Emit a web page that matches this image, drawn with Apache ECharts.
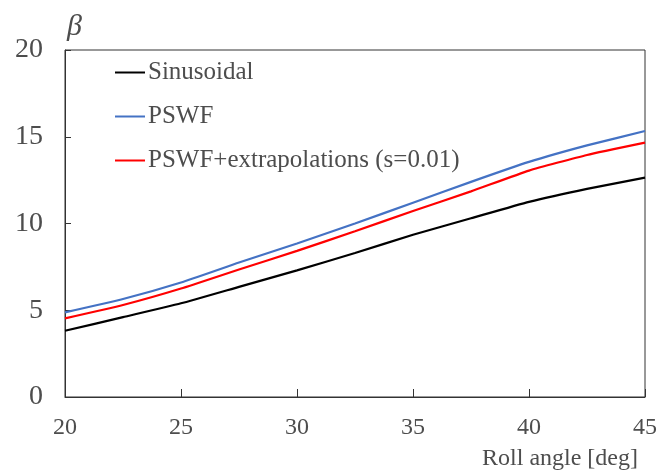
<!DOCTYPE html>
<html>
<head>
<meta charset="utf-8">
<script src="https://cdn.jsdelivr.net/npm/echarts@6/dist/echarts.min.js"></script>
<style>html,body{margin:0;padding:0;background:#fff}#c{width:660px;height:470px}</style>
</head>
<body>
<div id="c"></div>
<script>
const rollAngle = [20, 22.5, 25, 27.5, 30, 32.5, 35, 37.5, 40, 42.5, 45];
const sinusoidal = [3.82, 4.6, 5.4, 6.35, 7.3, 8.3, 9.35, 10.3, 11.25, 12.0, 12.64];
const pswf = [4.88, 5.65, 6.6, 7.75, 8.85, 10.0, 11.2, 12.4, 13.55, 14.5, 15.33];
const pswfExtra = [4.53, 5.3, 6.25, 7.35, 8.42, 9.55, 10.72, 11.85, 13.05, 13.95, 14.66];
const seriesNames = ['Sinusoidal', 'PSWF', 'PSWF+extrapolations (s=0.01)'];
const seriesColors = ['#000000', '#4472C4', '#FF0000'];
const yTicks = [0, 5, 10, 15, 20];
const xTicks = [20, 25, 30, 35, 40, 45];

const serif = '"Liberation Serif", "Times New Roman", serif';
const txtColor = '#4d4d4d';
const toPairs = (ys) => rollAngle.map((x, i) => [x, ys[i]]);
const allY = [sinusoidal, pswf, pswfExtra];

const chart = echarts.init(document.getElementById('c'), null, {renderer: 'canvas'});
chart.setOption({
  animation: false,
  backgroundColor: '#fff',
  grid: {left: 65, right: 15, top: 50, bottom: 73, show: true, borderColor: '#333', borderWidth: 1, backgroundColor: 'transparent'},
  legend: {
    orient: 'vertical', left: 110, top: 55, itemGap: 19,
    icon: 'rect', itemWidth: 30, itemHeight: 2,
    textStyle: {fontFamily: serif, fontSize: 25, color: txtColor, padding: [0, 0, 0, -2]},
    data: seriesNames
  },
  xAxis: {
    type: 'value', min: xTicks[0], max: xTicks[xTicks.length - 1], interval: 5,
    axisLine: {lineStyle: {color: '#333', width: 1}},
    axisTick: {inside: true, length: 8, lineStyle: {color: '#333'}},
    axisLabel: {fontFamily: serif, fontSize: 24, color: txtColor, margin: 19},
    splitLine: {show: false}
  },
  yAxis: {
    type: 'value', min: yTicks[0], max: yTicks[yTicks.length - 1], interval: 5,
    axisLine: {show: true, lineStyle: {color: '#333', width: 1}},
    axisTick: {show: true, inside: true, length: 6, lineStyle: {color: '#333'}},
    axisLabel: {fontFamily: serif, fontSize: 28, color: txtColor, margin: 22},
    splitLine: {show: false}
  },
  graphic: [
    {type: 'text', left: 67, top: 12, style: {text: 'β', font: 'italic 30px ' + serif, fill: txtColor}},
    {type: 'text', right: 22, top: 447, style: {text: 'Roll angle [deg]', font: '24px ' + serif, fill: txtColor}}
  ],
  series: seriesNames.map((n, i) => ({
    name: n, type: 'line', data: toPairs(allY[i]), smooth: 0.15, showSymbol: false,
    lineStyle: {color: seriesColors[i], width: 2.2}, itemStyle: {color: seriesColors[i]}
  }))
});
</script>
</body>
</html>
